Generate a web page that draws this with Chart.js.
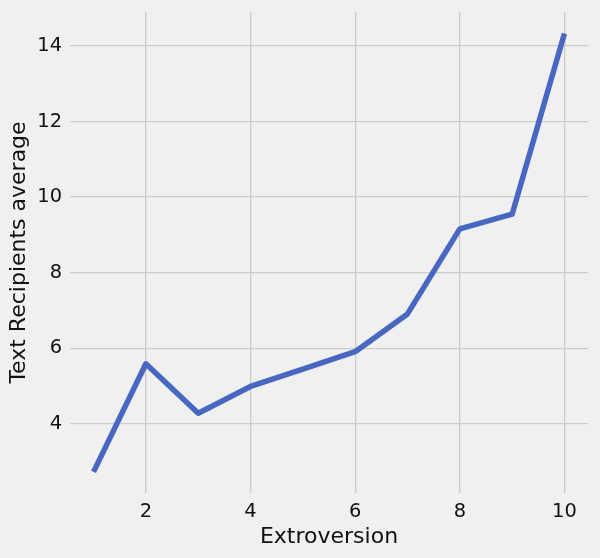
<!DOCTYPE html>
<html>
<head>
<meta charset="utf-8">
<script src="https://cdn.jsdelivr.net/npm/chart.js@4/dist/chart.umd.min.js"></script>
<style>
    html, body { margin: 0; padding: 0; background: #f0f0f0; }
    #wrap { width: 600px; height: 558px; }
</style>
</head>
<body>
<div id="wrap"><canvas id="chart"></canvas></div>
<script>
// Data
const extroversion = [1, 2, 3, 4, 5, 6, 7, 8, 9, 10];
const recipientsAvg = [2.73, 5.59, 4.28, 4.99, 5.45, 5.91, 6.91, 9.16, 9.55, 14.33];
const xTicks = [2, 4, 6, 8, 10];
const yTicks = [4, 6, 8, 10, 12, 14];

const FONT = 'DejaVu Sans';
const GRID = '#cbcbcb';
const TEXT = '#111111';

const ctx = document.getElementById('chart').getContext('2d');
new Chart(ctx, {
    type: 'line',
    data: {
        datasets: [{
            data: extroversion.map((x, i) => ({ x: x, y: recipientsAvg[i] })),
            borderColor: '#4767c1',
            borderWidth: 5.5,
            borderJoinStyle: 'round',
            borderCapStyle: 'butt',
            pointRadius: 0,
            tension: 0,
            clip: false
        }]
    },
    options: {
        responsive: true,
        maintainAspectRatio: false,
        animation: false,
        layout: { padding: { top: 12, right: 12, left: 0, bottom: 0 } },
        plugins: { legend: { display: false }, tooltip: { enabled: false } },
        scales: {
            x: {
                type: 'linear',
                min: 0.55,
                max: 10.45,
                afterBuildTicks: s => { s.ticks = xTicks.map(v => ({ value: v })); },
                afterFit: s => { s.height = 65; s.paddingLeft = 0; s.paddingRight = 0; },
                grid: { color: GRID, lineWidth: 1.3, drawTicks: false },
                border: { display: false },
                ticks: { color: TEXT, font: { family: FONT, size: 19.4 }, padding: 7, maxRotation: 0 },
                title: {
                    display: true,
                    text: 'Extroversion',
                    color: TEXT,
                    font: { family: FONT, size: 22 },
                    padding: { top: 0, bottom: 8 }
                }
            },
            y: {
                min: 2.17,
                max: 14.9,
                afterBuildTicks: s => { s.ticks = yTicks.map(v => ({ value: v })); },
                afterFit: s => { s.width = 70; s.paddingTop = 0; s.paddingBottom = 0; },
                grid: { color: GRID, lineWidth: 1.3, drawTicks: false },
                border: { display: false },
                ticks: { color: TEXT, font: { family: FONT, size: 19.4 }, padding: 8 },
                title: {
                    display: true,
                    text: 'Text Recipients average',
                    color: TEXT,
                    font: { family: FONT, size: 22 },
                    padding: { top: 6, bottom: 0 }
                }
            }
        }
    },
    plugins: [{
        id: 'bg',
        beforeDraw: c => {
            const g = c.ctx;
            g.save();
            g.fillStyle = '#f0f0f0';
            g.fillRect(0, 0, c.width, c.height);
            g.restore();
        }
    }]
});
</script>
</body>
</html>
